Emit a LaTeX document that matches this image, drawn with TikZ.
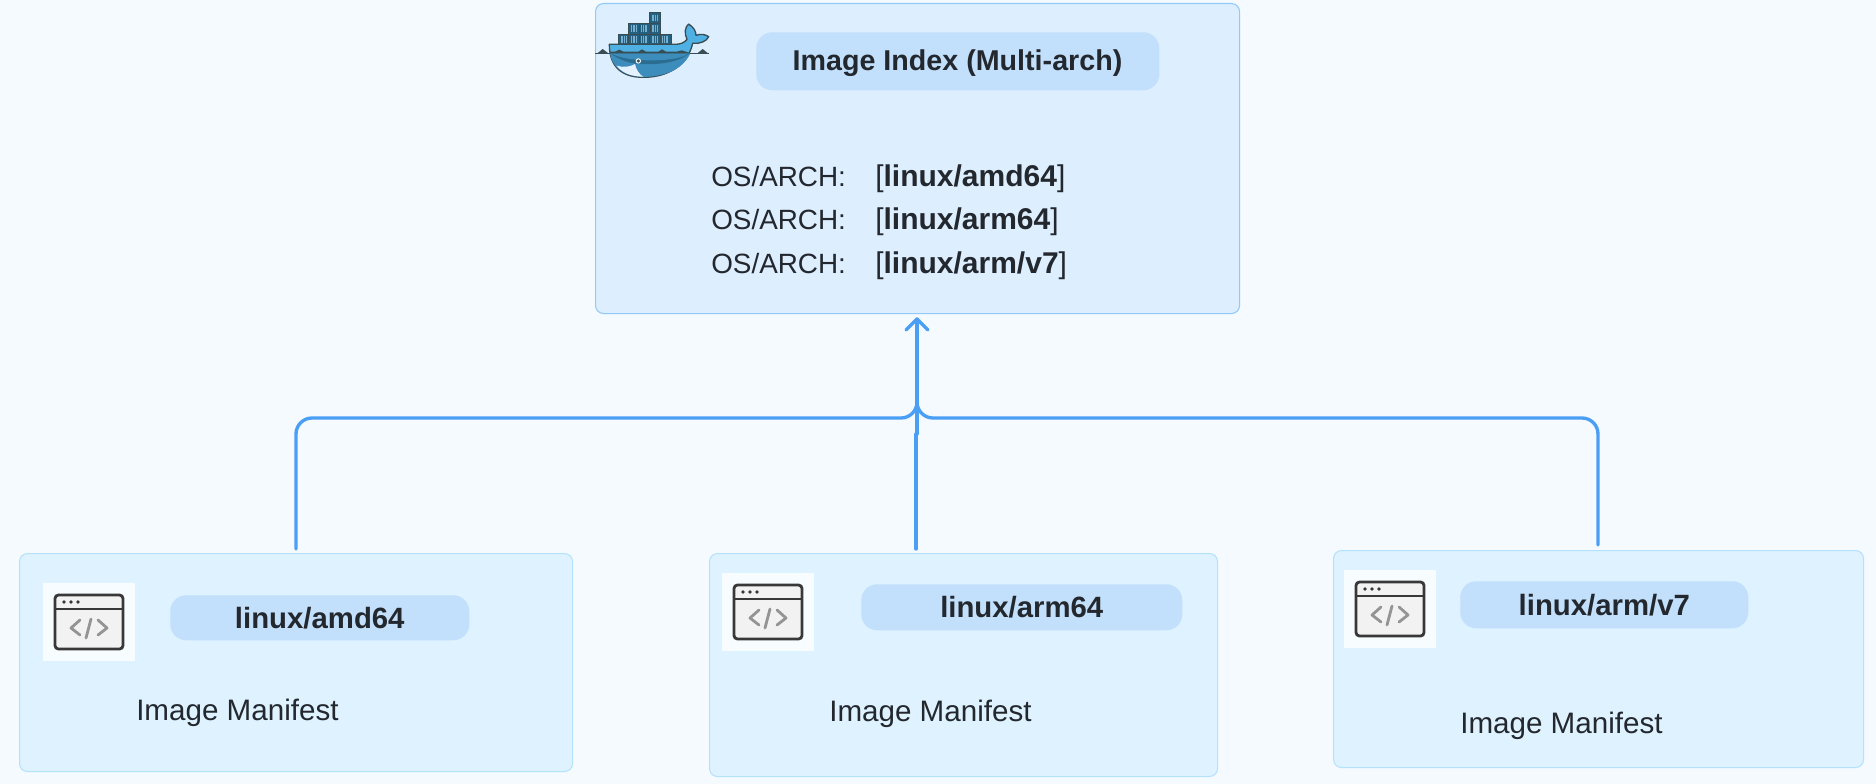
\documentclass[tikz,border=0pt]{standalone}
\usepackage{fontspec}
\setmainfont{Liberation Sans}
\usetikzlibrary{arrows.meta}
\definecolor{bgc}{HTML}{F5FAFF}
\definecolor{idxfill}{HTML}{DDEEFF}
\definecolor{idxline}{HTML}{90CAF9}
\definecolor{manfill}{HTML}{DEF2FF}
\definecolor{manline}{HTML}{B5E2FB}
\definecolor{pillc}{HTML}{C2E0FB}
\definecolor{conc}{HTML}{4A9FF5}
\definecolor{txt}{HTML}{23272E}
\definecolor{wdark}{HTML}{24607F}
\definecolor{wmid}{HTML}{3C8DBC}
\definecolor{wlight}{HTML}{4FB1E3}
\definecolor{wline}{HTML}{394D54}
\tikzset{
  x=0.75pt,y=-0.75pt,
  box/.style={draw,rounded corners=6pt,line width=0.8pt,inner sep=0pt},
  idx/.style={box,fill=idxfill,draw=idxline},
  man/.style={box,fill=manfill,draw=manline},
  pill/.style={fill=pillc,rounded corners=12pt,inner sep=0pt,text=txt,font=\fontsize{22}{26}\selectfont\bfseries},
  plain/.style={inner sep=0pt,text=txt,anchor=base west,font=\fontsize{22.2}{26}\selectfont},
  conn/.style={draw=conc,line width=2.5pt,line cap=round},
  iconbg/.style={fill=white!75!manfill,inner sep=0pt},
  cont/.style={fill=wdark,draw=wline,line width=0.5pt},
}
\newcommand{\boxat}[6]{\node[#2,minimum width=#5 *0.75pt-#3 *0.75pt,minimum height=#6 *0.75pt-#4 *0.75pt,anchor=north west] (#1) at (#3,#4) {};}
\newcommand{\winicon}[3]{%
  \begin{scope}[shift={(#2,#3)}]
  \node[iconbg,minimum width=69pt,minimum height=58.5pt,anchor=north west] (#1) at (0,0) {};
  \fill[rounded corners=2.6pt,fill=black!5,draw=black!78,line width=2.1pt] (12,12) rectangle (80,66);
  \draw[black!78,line width=1.9pt] (12,26) -- (80,26);
  \fill[black!78] (21,19) circle (1.9) (28,19) circle (1.9) (35,19) circle (1.9);
  \draw[black!42,line width=2.1pt,line cap=round,line join=round] (37,37) -- (28,45) -- (37,52) (55,37) -- (64,45) -- (55,52) (48,36) -- (43,55);
  \end{scope}}
\begin{document}
\begin{tikzpicture}
\useasboundingbox (0,0) rectangle (1876,784);
\fill[bgc] (0,0) rectangle (1876,784);
\boxat{index}{idx}{595}{3}{1239}{313}
\boxat{m1}{man}{19}{553}{572}{771}
\boxat{m2}{man}{709}{553}{1217}{776}
\boxat{m3}{man}{1333}{550}{1863}{767}
% connectors
\coordinate (j) at (917,418);
\coordinate (tip) at (917,319);
\coordinate (s1) at (296,549);
\coordinate (s2) at (916,549);
\coordinate (s2b) at (916,434);
\coordinate (s2c) at (917,434);
\coordinate (s3) at (1598,545);
\coordinate (c1) at (296,418);
\coordinate (c3) at (1598,418);
\coordinate (up) at (917,396);
\draw[conn,rounded corners=12pt] (s1) -- (c1) -- (j) -- (up);
\draw[conn,rounded corners=12pt] (s3) -- (c3) -- (j) -- (up);
\draw[conn] (s2) -- (s2b) (s2c) -- (tip);
\draw[conn,line join=round] (906,330) -- (tip) -- (928,330);
% pills
\boxat{p0}{pill}{756}{32}{1159}{90}
\boxat{p1}{pill}{170}{595}{469}{640}
\boxat{p2}{pill}{861}{584}{1182}{630}
\boxat{p3}{pill}{1460}{581}{1748}{628}
\node[pill,fill=none,font=\fontsize{21.5}{24}\selectfont\bfseries] (t0) at (957.5,63.5) {Image Index (Multi-arch)};
\node[pill,fill=none] (t1) at (p1) {linux/amd64};
\node[pill,fill=none] (t2) at (p2) {linux/arm64};
\node[pill,fill=none] (t3) at (p3) {linux/arm/v7};
% index text
\node[plain,font=\fontsize{20.9}{26}\selectfont] (o1) at (711,187) {OS/ARCH:};
\node[plain,font=\fontsize{20.9}{26}\selectfont] (o2) at (711,230) {OS/ARCH:};
\node[plain,font=\fontsize{20.9}{26}\selectfont] (o3) at (711,273) {OS/ARCH:};
\node[plain,font=\fontsize{22.5}{26}\selectfont] (v1) at (875,187) {[\textbf{linux/amd64}]};
\node[plain,font=\fontsize{22.5}{26}\selectfont] (v2) at (875,230) {[\textbf{linux/arm64}]};
\node[plain,font=\fontsize{22.5}{26}\selectfont] (v3) at (875,273) {[\textbf{linux/arm/v7}]};
% manifests
\node[plain] (im1) at (136,720) {Image Manifest};
\node[plain] (im2) at (829,721) {Image Manifest};
\node[plain] (im3) at (1460,733) {Image Manifest};
\winicon{w1}{43}{583}
\winicon{w2}{722}{573}
\winicon{w3}{1344}{570}
% docker whale
\begin{scope}[shift={(590,0)},x=0.25pt,y=-0.25pt]
  \foreach \a/\b in {178/38,178/70,116/70,147/70,85/102,116/102,147/102,178/102,210/102}{
    \draw[cont] (\a,\b) rectangle ++(33,32);
    \foreach \d in {8,13,18,23}{\draw[wmid!70!white,line width=0.3pt] (\a+\d,\b+6) -- ++(0,20);}
  }
  \draw[wline,line width=0.5pt] (15,160) -- (357,160);
  \fill[wline] (22,160) -- (38,147) -- (55,160) -- cycle (322,160) -- (338,147) -- (354,160) -- cycle;
  \path[fill=wlight,draw=wline,line width=1pt,line join=round]
    (58,133) -- (255,133) .. controls (272,133) and (283,128) .. (291,118)
    .. controls (282,100) and (285,80) .. (296,72)
    .. controls (310,82) and (318,92) .. (318,106)
    .. controls (332,100) and (348,104) .. (356,110)
    .. controls (350,124) and (330,132) .. (308,130)
    .. controls (295,190) and (240,232) .. (160,232)
    .. controls (95,232) and (58,200) .. (58,133) -- cycle;
  \fill[wmid] (60,160) -- (301,160)
    .. controls (280,205) and (230,230) .. (160,230.5)
    .. controls (100,230) and (66,200) .. (60,160) -- cycle;
  \fill[wdark!70!wmid] (62,160) -- (298,160) .. controls (270,185) and (215,195) .. (150,192) .. controls (115,190) and (85,178) .. (62,160) -- cycle;
  \fill[wmid] (64,160) -- (296,160) .. controls (270,180) and (200,183) .. (150,180) .. controls (115,178) and (85,172) .. (64,160) -- cycle;
  \fill[idxfill!80!white] (80,197) .. controls (100,204) and (122,200) .. (135,192)
    .. controls (138,210) and (150,225) .. (160,230)
    .. controls (122,230) and (95,218) .. (80,197) -- cycle;
  \fill[wline] (59,155) -- (75,155) -- (88,149) -- (100,155) -- (145,155) -- (156,148) -- (168,155) -- (205,155) -- (216,148) -- (228,155) -- (260,155) -- (275,151) -- (300,159) -- (300,160) -- (60,160) -- cycle;
  \fill[white] (145,183) circle (8);
  \fill[wline] (145,183) circle (5);
\end{scope}
\end{tikzpicture}
\end{document}
